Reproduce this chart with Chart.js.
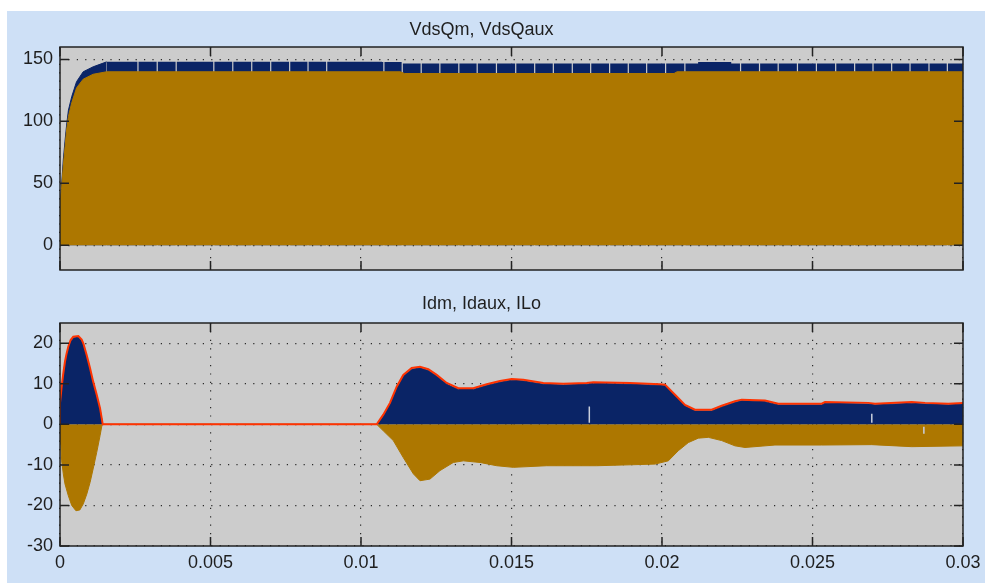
<!DOCTYPE html>
<html>
<head>
<meta charset="utf-8">
<script src="https://cdn.jsdelivr.net/npm/chart.js@4.4.1/dist/chart.umd.min.js"></script>
<style>
html, body { margin: 0; padding: 0; background: #fff; }
#bg { position: absolute; left: 7px; top: 11px; width: 978px; height: 572px; background: #cee0f6; }
canvas { position: absolute; left: 0; }
#vds { top: 0; }
#cur { top: 280px; }
</style>
</head>
<body>
<div id="bg"></div>
<canvas id="vds" width="985" height="280"></canvas>
<canvas id="cur" width="985" height="303"></canvas>
<script>
// axis ticks
const tTicks = [0, 0.005, 0.01, 0.015, 0.02, 0.025, 0.03];
const tLabels = ['0', '0.005', '0.01', '0.015', '0.02', '0.025', '0.03'];
const vTicks = [0, 50, 100, 150];
const iTicks = [-30, -20, -10, 0, 10, 20];

// VdsQm: start-up rise, then flat levels with switching gaps
const vdsQmRiseT = [0, 0.00003, 0.00006, 0.00011, 0.00017, 0.00022, 0.00028, 0.00039, 0.00055, 0.00077, 0.0011, 0.00155];
const vdsQmRiseV = [35, 37, 51, 69, 85, 97, 109, 120, 132, 140, 144, 148];
const qmLevelT = [0.00155, 0.0107, 0.01135, 0.0212, 0.0223];
const qmLevelV = [148, 147.8, 146.6, 147.9, 146.6];
const qmGapT = [0.00257, 0.00321, 0.00384, 0.00509, 0.00572, 0.00635, 0.00698, 0.00761, 0.00822, 0.00884,
    0.01074, 0.01135, 0.01198, 0.0126, 0.01323, 0.01384, 0.01448, 0.01512, 0.01575, 0.01637, 0.017,
    0.01761, 0.01824, 0.01886, 0.01947, 0.0201, 0.02074, 0.02259, 0.02322, 0.02384, 0.02448, 0.02511,
    0.02575, 0.02638, 0.02699, 0.02761, 0.02822, 0.02885, 0.02946];

// VdsQaux envelope
const vdsQauxT = [0, 0.00005, 0.00011, 0.00017, 0.00022, 0.00028, 0.00039, 0.00055, 0.00077, 0.0011, 0.00155, 0.0113, 0.01145, 0.0204, 0.0205, 0.03];
const vdsQauxV = [35, 45, 64, 80, 93, 104, 115, 127, 134, 138, 140, 140, 138.6, 138.6, 140, 140];

// Idm envelope (ILo shares its time base)
const idmT = [0, 0, 0.000055, 0.00011, 0.000166, 0.00022, 0.000277, 0.000354, 0.00044, 0.00061, 0.00072, 0.000775,
    0.000886, 0.000997, 0.0011, 0.00122, 0.00133, 0.00142, 0.010522, 0.010741, 0.010963, 0.011186, 0.011405,
    0.011684, 0.01196, 0.012236, 0.012515, 0.012847, 0.013233, 0.013731, 0.014176, 0.014618, 0.015007,
    0.015392, 0.016057, 0.016721, 0.017498, 0.017718, 0.018937, 0.019934, 0.0201, 0.020432, 0.020764,
    0.021096, 0.021651, 0.021983, 0.022425, 0.022648, 0.023422, 0.023864, 0.025306, 0.025415, 0.026854,
    0.027076, 0.028296, 0.028738, 0.029512, 0.03];
const idmV = [0, 5, 9, 12.3, 15.2, 17.2, 18.9, 20.5, 21.3, 21.5, 20.6, 19.7, 16.8, 13.6, 10.3, 7, 3.7, 0,
    0, 2.1, 5, 9, 11.9, 13.6, 13.9, 13.3, 11.9, 9.9, 8.6, 8.6, 9.6, 10.4, 10.9, 10.7, 9.9, 9.7, 9.9, 10.1,
    9.9, 9.6, 9.5, 7, 4.5, 3.3, 3.3, 4.3, 5.4, 5.8, 5.6, 4.8, 4.8, 5.2, 5, 4.8, 5.2, 5, 4.8, 5];
const iloV = [0, 5.3, 9.3, 12.6, 15.5, 17.5, 19.2, 20.8, 21.6, 21.8, 20.9, 20, 17.1, 13.9, 10.6, 7.3, 4, 0,
    0, 2.4, 5.3, 9.3, 12.2, 13.9, 14.2, 13.6, 12.2, 10.2, 8.9, 8.9, 9.9, 10.7, 11.2, 11, 10.2, 10, 10.2, 10.4,
    10.2, 9.9, 9.8, 7.3, 4.8, 3.6, 3.6, 4.6, 5.7, 6.1, 5.9, 5.1, 5.1, 5.5, 5.3, 5.1, 5.5, 5.3, 5.1, 5.3];

// Idaux envelope (negative)
const idauxT = [0, 0.00003, 0.000055, 0.00011, 0.000166, 0.000277, 0.00039, 0.00053, 0.00066, 0.000775, 0.00089,
    0.001, 0.0011, 0.00122, 0.00133, 0.0014, 0.010522, 0.010741, 0.011073, 0.011405, 0.011738, 0.01196,
    0.012292, 0.012625, 0.013067, 0.013399, 0.013953, 0.014508, 0.01506, 0.01617, 0.01783, 0.019767,
    0.02021, 0.020542, 0.020874, 0.021206, 0.021538, 0.021983, 0.022425, 0.022757, 0.023754, 0.025306,
    0.026967, 0.028296, 0.03];
const idauxV = [0, -5, -9, -12.2, -14.7, -17.6, -20, -21.3, -21.1, -19.6, -17.2, -14.3, -11, -6.9, -2.8, 0,
    0, -1.6, -4, -8.2, -12.2, -13.9, -13.5, -11.4, -9.4, -9, -9.4, -10.2, -10.6, -10.2, -10.2, -9.8, -9,
    -6.5, -4.5, -3.4, -3.2, -4, -5.3, -5.7, -5.1, -5.1, -5, -5.5, -5.3];

// short dropouts visible inside the current envelopes
const dropT = [0.017585, 0.02697, 0.0287];
const dropLo = [0.4, 0.4, -2.3];
const dropHi = [4.4, 2.6, -0.6];

const BLUE = '#0a2466', GOLD = '#ad7700', RED = '#ff3300', DROP = '#c9cfdc';
const PLOT_BG = '#cccccc', GRID = '#2a2a2a', TXT = '#1e1e1e';
const TICK = 9;
const FONT = { family: '"Liberation Sans", Arial, sans-serif', size: 18, weight: 'normal', lineHeight: 1.2 };
const LINE_H = FONT.size * FONT.lineHeight;

const pts = (ts, vs) => ts.map((t, i) => ({ x: t, y: vs[i] }));

// steady part of VdsQm: flat levels, dropping to 0 at each gap
const gapW = 0.00004;
function levelAt(t) {
    let v = qmLevelV[0];
    qmLevelT.forEach((s, i) => { if (t >= s) v = qmLevelV[i]; });
    return v;
}
const inGap = t => qmGapT.some(g => t >= g && t < g + gapW);
const qmEdges = [...qmLevelT, ...qmGapT, ...qmGapT.map(g => g + gapW), 0.03].sort((a, b) => a - b);
const vdsQmSteady = qmEdges.map(t => ({ x: t, y: inGap(t) ? 0 : levelAt(t) }));

// each dropout is a short vertical segment, separated by null breaks
const dropPts = dropT.flatMap((t, i) => [{ x: t, y: dropLo[i] }, { x: t, y: dropHi[i] }, { x: t, y: null }]);

const frame = {
    id: 'frame',
    beforeDraw(chart) {
        const a = chart.chartArea, ctx = chart.ctx;
        ctx.save();
        ctx.fillStyle = PLOT_BG;
        ctx.fillRect(a.left, a.top, a.right - a.left, a.bottom - a.top);
        ctx.restore();
    },
    afterDatasetsDraw(chart) {
        const a = chart.chartArea, ctx = chart.ctx;
        const xs = chart.scales.x, ys = chart.scales.y;
        ctx.save();
        ctx.strokeStyle = '#222';
        ctx.lineWidth = 1.5;
        ctx.strokeRect(a.left, a.top, a.right - a.left, a.bottom - a.top);
        ctx.beginPath();
        xs.ticks.forEach(t => {
            const p = xs.getPixelForValue(t.value);
            ctx.moveTo(p, a.top); ctx.lineTo(p, a.top + TICK);
            ctx.moveTo(p, a.bottom); ctx.lineTo(p, a.bottom - TICK);
        });
        ys.ticks.forEach(t => {
            const p = ys.getPixelForValue(t.value);
            ctx.moveTo(a.left, p); ctx.lineTo(a.left + TICK, p);
            ctx.moveTo(a.right, p); ctx.lineTo(a.right - TICK, p);
        });
        ctx.stroke();
        ctx.restore();
    }
};

function scales(yMin, yMax, yTicks, showX) {
    const grid = { color: GRID, lineWidth: 1.2, drawTicks: false };
    const border = { display: false, dash: [1.2, 7.2] };
    return {
        x: {
            type: 'linear', min: 0, max: 0.03,
            afterBuildTicks: ax => { ax.ticks = tTicks.map(v => ({ value: v })); },
            afterFit: ax => { ax.height = showX ? 37 : 0; ax.paddingLeft = 0; ax.paddingRight = 0; },
            grid, border,
            ticks: { display: showX, padding: 6, color: TXT, font: FONT, maxRotation: 0, autoSkip: false,
                     callback: (v, i) => tLabels[i] }
        },
        y: {
            min: yMin, max: yMax,
            afterBuildTicks: ax => { ax.ticks = yTicks.map(v => ({ value: v })); },
            afterFit: ax => { ax.width = 60; ax.paddingTop = 0; ax.paddingBottom = 0; },
            grid, border,
            ticks: { padding: 7, color: TXT, font: FONT, callback: v => String(v) }
        }
    };
}

// title centred at titleY, plot area starting at areaTop (canvas pixels)
function options(title, titleY, areaTop, padBottom, sc) {
    const padTop = titleY - LINE_H / 2;
    return {
        responsive: false, animation: false, devicePixelRatio: 1,
        layout: { padding: { left: 0, right: 22, top: 0, bottom: padBottom } },
        elements: { point: { radius: 0 }, line: { tension: 0 } },
        plugins: {
            legend: { display: false },
            tooltip: { enabled: false },
            title: { display: true, text: title, color: TXT, font: FONT,
                     padding: { top: padTop, bottom: areaTop - padTop - LINE_H } }
        },
        scales: sc
    };
}

new Chart(document.getElementById('vds'), {
    type: 'line',
    data: {
        datasets: [
            { label: 'VdsQaux', data: pts(vdsQauxT, vdsQauxV), borderColor: GOLD, backgroundColor: GOLD, borderWidth: 1, fill: 'origin' },
            { label: 'VdsQm', data: pts(vdsQmRiseT, vdsQmRiseV), borderColor: BLUE, backgroundColor: BLUE, borderWidth: 1, fill: 'origin' },
            { label: 'VdsQm', data: vdsQmSteady, stepped: true, backgroundColor: BLUE, borderWidth: 0, fill: 'origin' }
        ]
    },
    options: options('VdsQm, VdsQaux', 30, 47, 10, scales(-20, 160, vTicks, false)),
    plugins: [frame]
});

new Chart(document.getElementById('cur'), {
    type: 'line',
    data: {
        datasets: [
            { label: 'ILo', data: pts(idmT, iloV), borderColor: RED, borderWidth: 2, fill: false },
            { label: 'dropouts', data: dropPts, borderColor: DROP, borderWidth: 1.5, fill: false, spanGaps: false },
            { label: 'Idm', data: pts(idmT, idmV), borderColor: BLUE, backgroundColor: BLUE, borderWidth: 1, fill: 'origin' },
            { label: 'Idaux', data: pts(idauxT, idauxV), borderColor: GOLD, backgroundColor: GOLD, borderWidth: 1, fill: 'origin' }
        ]
    },
    options: options('Idm, Idaux, ILo', 24, 43, 0, scales(-30, 25, iTicks, true)),
    plugins: [frame]
});
</script>
</body>
</html>
